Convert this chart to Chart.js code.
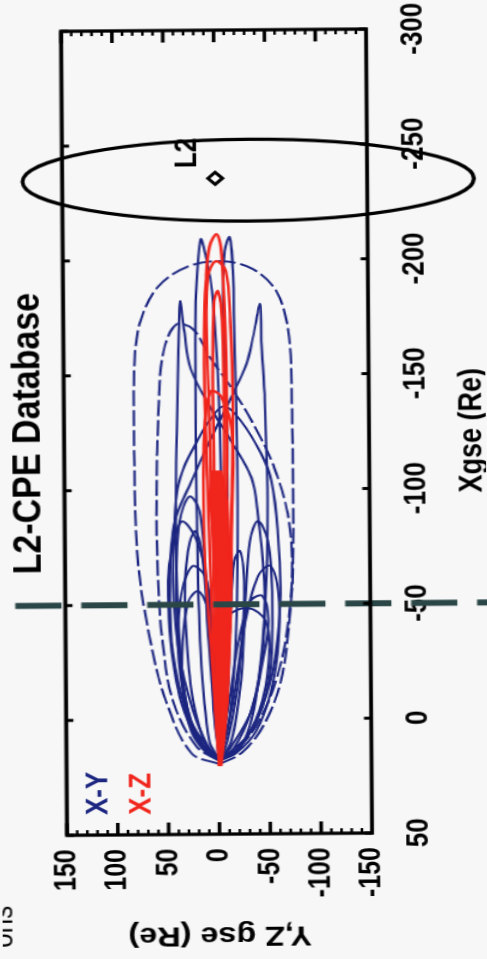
<!DOCTYPE html>
<html><head><meta charset="utf-8">
<script src="https://cdn.jsdelivr.net/npm/chart.js@4.4.1/dist/chart.umd.min.js"></script>
<style>
html,body{margin:0;padding:0;width:487px;height:959px;overflow:hidden;background:#f7f7f7;}
#wrap{position:absolute;left:0;top:0;width:959px;height:406px;transform-origin:0 0;
transform:translate(2.95px,961.8px) rotate(-90.43deg) scale(1,1.1995);}
</style></head><body>
<div id="wrap"><canvas id="c" width="959" height="406"></canvas></div>
<script>
// ---------- texts ----------
const chartTitle = 'L2-CPE Database';
const xAxisTitle = 'Xgse (Re)';
const yAxisTitle = 'Y,Z gse (Re)';
const seriesNames = ['X-Y', 'X-Z'];
const l2Label = 'L2';
const cutoffText = 'ons';

// ---------- ticks ----------
const xTickValues = [-300, -250, -200, -150, -100, -50, 0, 50];
const yTickValues = [-150, -100, -50, 0, 50, 100, 150];

// ---------- reference marks (data units) ----------
const l2Point = [[-235.5, -0.5]];
const l2LabelAt = [-240, 26];
const dashLineX = -50;
const l2ZoneCenter = [-234.6, -33];
const l2ZoneHalfSize = [17.8, 222];
const legendAt = [[41.3, 118], [41.3, 76]];

// ---------- X-Y trajectories (x, y) ----------
const xyTrack1 = [[19.5,-0.5],[14.7,27.0],[-7.9,51.6],[-34.0,66.4],[-68.8,78.2],[-116.7,81.1],[-155.9,80.1],[-173.3,74.2],[-188.5,56.5],[-197.2,27.0],[-199.4,-7.4],[-195.9,-36.9],[-186.4,-59.5],[-168.9,-71.3],[-138.5,-74.3],[-68.8,-74.3],[-47.1,-71.3],[-16.6,-61.5],[3.0,-43.8],[14.7,-22.2],[19.5,-0.5]];
const xyTrack2 = [[18.2,-0.5],[11.7,22.1],[-7.9,44.7],[-34.0,54.6],[-60.1,58.5],[-94.9,59.5],[-138.5,56.5],[-160.2,51.6],[-172.0,38.8],[-169.8,22.1],[-157.2,5.4],[-142.8,-17.2],[-125.4,-39.9],[-109.3,-56.6],[-89.3,-69.4],[-68.8,-73.3],[-42.7,-69.4],[-16.6,-56.6],[3.0,-36.9],[14.7,-14.3],[18.2,-0.5]];
const xyTrack3 = [[17.4,-0.5],[10.4,19.1],[-7.9,31.9],[-42.7,38.8],[-86.2,40.8],[-129.8,38.8],[-160.2,36.9],[-182.0,34.9],[-168.9,30.9],[-152.8,25.0],[-135.4,5.4],[-121.1,-14.3],[-105.0,-34.0],[-89.3,-39.9],[-60.1,-45.8],[-29.6,-43.8],[-3.5,-32.0],[13.0,-14.3],[17.4,-0.5]];
const xyTrack4 = [[17.4,-0.5],[11.7,-22.2],[-12.2,-37.9],[-51.4,-46.8],[-94.9,-49.7],[-138.5,-47.7],[-164.6,-44.8],[-180.7,-43.8],[-166.8,-36.9],[-154.6,-30.0],[-139.8,-14.3],[-122.4,5.4],[-103.7,25.0],[-86.2,41.8],[-60.1,46.7],[-29.6,44.7],[-3.5,31.9],[11.7,15.2],[17.4,-0.5]];
const xyTrack5 = [[17.4,-0.5],[13.0,9.3],[-3.5,25.0],[-29.6,38.8],[-60.1,43.7],[-86.2,41.8],[-100.6,38.8],[-110.2,31.9],[-121.1,19.1],[-129.8,7.3],[-136.3,-7.4],[-129.8,-24.1],[-115.4,-43.8],[-103.7,-53.6],[-81.9,-59.5],[-51.4,-61.5],[-20.9,-53.6],[0.8,-36.9],[13.9,-17.2],[17.4,-0.5]];
const xyTrack6 = [[18.0,-0.5],[11.7,17.2],[-7.9,36.9],[-34.0,46.7],[-60.1,48.7],[-74.5,44.7],[-86.2,34.9],[-79.7,22.1],[-64.5,12.3],[-34.0,5.4],[-3.5,2.4],[18.0,-0.5]];
const xyTrack7 = [[17.4,-0.5],[9.5,9.3],[-29.6,17.2],[-94.9,20.1],[-155.9,20.1],[-186.4,19.1],[-209.0,14.2],[-201.6,9.3],[-186.4,3.4],[-138.5,-2.5],[-68.8,-4.5],[-7.9,-2.5],[17.4,-0.5]];
const xyTrack8 = [[17.4,-0.5],[0.8,-10.4],[-42.7,-18.2],[-103.7,-20.2],[-168.9,-18.2],[-195.1,-17.2],[-209.9,-14.3],[-203.8,-9.4],[-182.0,-7.4],[-116.7,-10.4],[-51.4,-8.4],[0.8,-4.5],[17.4,-0.5]];
const xyTrack9 = [[18.0,-0.5],[-7.9,5.4],[-29.6,3.4],[-44.0,-7.4],[-48.4,-29.1],[-42.7,-46.8],[-25.3,-49.7],[-3.5,-39.9],[11.7,-20.2],[18.0,-0.5]];
const xyTrack10 = [[18.0,-0.5],[13.0,12.3],[-1.4,29.0],[-25.3,38.8],[-51.4,36.9],[-66.7,25.0],[-62.3,12.3],[-42.7,5.4],[-7.9,1.4],[18.0,-0.5]];
const xyTrack11 = [[18.0,-0.5],[9.5,-12.3],[-16.6,-22.2],[-51.4,-27.1],[-77.5,-32.0],[-86.2,-39.9],[-77.5,-49.7],[-51.4,-53.6],[-16.6,-49.7],[5.2,-32.0],[18.0,-0.5]];
const xyTrack12 = [[18.0,-0.5],[14.7,12.3],[5.2,27.0],[-12.2,34.9],[-34.0,34.9],[-51.4,28.9],[-55.8,19.1],[-47.1,9.3],[-16.6,3.4],[18.0,-0.5]];
const xyTrack13 = [[18.0,-0.5],[14.7,-17.2],[5.2,-36.9],[-12.2,-51.7],[-34.0,-59.5],[-55.8,-59.5],[-66.7,-51.7],[-62.3,-39.9],[-42.7,-27.1],[-7.9,-14.3],[18.0,-0.5]];
const xyTrack14 = [[18.0,-0.5],[0.8,27.0],[-34.0,38.8],[-60.1,40.8],[-86.2,36.9],[-97.1,27.0],[-90.6,17.2],[-60.1,11.3],[-16.6,5.4],[18.0,-0.5]];
const xyTrack15 = [[18.0,-0.5],[11.7,-12.3],[-3.5,-32.0],[-25.3,-43.8],[-42.7,-49.7],[-53.6,-43.8],[-51.4,-32.0],[-34.0,-20.2],[-7.9,-10.4],[18.0,-0.5]];
const xyTrack16 = [[18.0,-0.5],[11.7,12.3],[-7.9,25.0],[-34.0,30.9],[-60.1,31.9],[-77.5,27.0],[-81.9,21.1],[-68.8,14.2],[-34.0,9.3],[0.8,3.4],[18.0,-0.5]];
const xyTrack17 = [[18.0,-0.5],[9.5,-8.4],[-12.2,-18.2],[-38.4,-24.1],[-60.1,-26.1],[-73.2,-22.2],[-68.8,-16.3],[-42.7,-12.3],[-7.9,-8.4],[18.0,-0.5]];

// ---------- X-Z trajectories (x, z) ----------
const xzTrack1 = [[20.4,-0.5],[-7.9,3.4],[-42.7,5.4],[-68.8,7.3],[-103.7,9.3],[-138.5,11.3],[-168.9,11.3],[-190.7,9.3],[-206.0,5.4],[-211.2,-1.5],[-206.0,-5.5],[-182.0,-8.4],[-138.5,-10.4],[-94.9,-9.4],[-51.4,-7.4],[-7.9,-4.5],[20.4,-0.5]];
const xzTrack2 = [[20.4,-0.5],[-7.9,1.4],[-51.4,3.4],[-94.9,5.4],[-138.5,7.3],[-173.3,9.3],[-192.9,7.3],[-199.4,-0.5],[-195.1,-10.4],[-173.3,-14.3],[-138.5,-16.3],[-94.9,-14.3],[-51.4,-10.4],[-7.9,-5.5],[20.4,-0.5]];
const xzTrack3 = [[20.4,-0.5],[-29.6,0.5],[-94.9,2.4],[-147.2,3.4],[-182.0,1.4],[-186.4,-2.5],[-173.3,-6.4],[-116.7,-7.4],[-51.4,-4.5],[20.4,-0.5]];
const xzTrack4 = [[20.4,-0.5],[0.8,2.4],[-34.0,7.3],[-68.8,12.3],[-103.7,13.2],[-129.8,11.3],[-142.8,5.4],[-140.7,-4.5],[-125.4,-15.3],[-86.2,-14.3],[-42.7,-12.3],[0.8,-6.4],[20.4,-0.5]];
const xzCore = [[20.4,-2.5],[9.5,-1.5],[-7.9,-0.5],[-42.7,0.5],[-68.8,2.4],[-94.9,7.3],[-108.0,5.4],[-108.0,-4.5],[-94.9,-10.4],[-68.8,-12.3],[-42.7,-12.3],[-7.9,-9.4],[9.5,-5.5],[20.4,-2.5]];

const xyTracks = [xyTrack1, xyTrack2, xyTrack3, xyTrack4, xyTrack5, xyTrack6, xyTrack7, xyTrack8, xyTrack9, xyTrack10, xyTrack11, xyTrack12, xyTrack13, xyTrack14, xyTrack15, xyTrack16, xyTrack17];
const xzTracks = [xzTrack1, xzTrack2, xzTrack3, xzTrack4];

// ---------- styles ----------
const FONT = "'Liberation Sans', Arial, Helvetica, sans-serif";
const BLUE = '#1c2680';
const RED = '#f0251c';
const DASH = '#2a4646';

const toXY = arr => arr.map(p => ({x: p[0], y: p[1]}));

const datasets = [];
datasets.push({label: l2Label, data: toXY(l2Point), showLine: false, pointStyle: 'rectRot',
  pointRadius: 6, pointBorderWidth: 3, pointBackgroundColor: '#ffffff', pointBorderColor: '#000000'});
datasets.push({label: seriesNames[1], data: toXY(xzCore), showLine: true, fill: 'shape',
  backgroundColor: RED, borderColor: RED, borderWidth: 1.5, pointRadius: 0, tension: 0});
xzTracks.forEach(t => datasets.push({label: seriesNames[1], data: toXY(t), showLine: true,
  borderColor: RED, borderWidth: 2.4, pointRadius: 0, tension: 0.35, fill: false}));
xyTracks.forEach((t, i) => datasets.push({label: seriesNames[0], data: toXY(t), showLine: true,
  borderColor: BLUE, borderWidth: 2, pointRadius: 0, tension: 0.35, fill: false,
  borderDash: i < 2 ? [16, 4] : []}));

const decor = {
  id: 'decor',
  afterDatasetsDraw(chart) {
    const {ctx, chartArea: a, scales: {x, y}} = chart;
    const seg = (x1, y1, x2, y2) => { ctx.beginPath(); ctx.moveTo(x1, y1); ctx.lineTo(x2, y2); ctx.stroke(); };
    ctx.save();
    // dashed L2 boundary line
    const xd = x.getPixelForValue(dashLineX);
    ctx.strokeStyle = DASH; ctx.lineWidth = 6; ctx.setLineDash([38.5, 16.5]);
    seg(xd, 12.5, xd, chart.height + 5);
    ctx.setLineDash([]);
    // axes box
    ctx.strokeStyle = '#000'; ctx.lineWidth = 3.3;
    ctx.strokeRect(a.left, a.top, a.right - a.left, a.bottom - a.top);
    // y ticks (major + minor), inward on both sides
    for (let v = yTickValues[0]; v <= yTickValues[yTickValues.length - 1]; v += 10) {
      const py = y.getPixelForValue(v);
      const major = v % 50 === 0;
      ctx.lineWidth = major ? 3 : 2.2;
      const len = major ? 12 : 5;
      seg(a.left, py, a.left + len, py);
      seg(a.right, py, a.right - len, py);
    }
    // x ticks inward on top and bottom
    ctx.lineWidth = 3;
    xTickValues.forEach(v => {
      const px = x.getPixelForValue(v);
      seg(px, a.top, px, a.top + 6);
      seg(px, a.bottom, px, a.bottom - 6);
    });
    // L2 zone ellipse
    const cx = x.getPixelForValue(l2ZoneCenter[0]);
    const cy = y.getPixelForValue(l2ZoneCenter[1]);
    const rx = Math.abs(x.getPixelForValue(l2ZoneCenter[0] + l2ZoneHalfSize[0]) - cx);
    const ry = Math.abs(y.getPixelForValue(l2ZoneCenter[1] + l2ZoneHalfSize[1]) - cy);
    ctx.lineWidth = 3.3; ctx.strokeStyle = '#000';
    ctx.beginPath(); ctx.ellipse(cx, cy, rx, ry, 0, 0, Math.PI * 2); ctx.stroke();
    // texts
    ctx.textBaseline = 'middle'; ctx.textAlign = 'left';
    ctx.font = 'bold 26px ' + FONT;
    ctx.fillStyle = BLUE;
    ctx.fillText(seriesNames[0], x.getPixelForValue(legendAt[0][0]), y.getPixelForValue(legendAt[0][1]));
    ctx.fillStyle = RED;
    ctx.fillText(seriesNames[1], x.getPixelForValue(legendAt[1][0]), y.getPixelForValue(legendAt[1][1]));
    ctx.fillStyle = '#000';
    ctx.fillText(l2Label, x.getPixelForValue(l2LabelAt[0]), y.getPixelForValue(l2LabelAt[1]));
    ctx.font = '26px ' + FONT; ctx.textAlign = 'right'; ctx.textBaseline = 'alphabetic';
    ctx.fillText(cutoffText, 56, 8.3);
    ctx.restore();
  }
};

Chart.defaults.font.family = FONT;
Chart.defaults.color = '#000';

new Chart(document.getElementById('c'), {
  type: 'scatter',
  data: {datasets},
  options: {
    responsive: false,
    animation: false,
    events: [],
    layout: {padding: {left: 0, right: 29, top: 0, bottom: 0}},
    plugins: {
      legend: {display: false},
      tooltip: {enabled: false},
      title: {display: true, text: chartTitle, fullSize: false, color: '#000',
        font: {size: 34, weight: 'bold', family: FONT}, padding: {top: 3.8, bottom: 9.6}}
    },
    scales: {
      x: {
        type: 'linear', reverse: true, min: xTickValues[0], max: xTickValues[xTickValues.length - 1],
        afterBuildTicks: s => { s.ticks = xTickValues.map(v => ({value: v})); },
        ticks: {font: {size: 26, weight: 'bold'}, color: '#000', padding: 24, maxRotation: 0, autoSkip: false},
        grid: {display: false, drawTicks: false}, border: {display: false},
        title: {display: true, text: xAxisTitle, color: '#000', font: {size: 27, weight: 'bold'}, padding: {top: 0, bottom: -4.5}},
        afterFit: s => { s.height = 97.5; }
      },
      y: {
        type: 'linear', min: yTickValues[0], max: yTickValues[yTickValues.length - 1],
        afterBuildTicks: s => { s.ticks = yTickValues.map(v => ({value: v})); },
        ticks: {font: {size: 25, weight: 'bold'}, color: '#000', padding: 14, autoSkip: false},
        grid: {display: false, drawTicks: false}, border: {display: false},
        title: {display: true, text: yAxisTitle, color: '#000', font: {size: 27, weight: 'bold'}, padding: {top: 9, bottom: 0}},
        afterFit: s => { s.width = 126; }
      }
    }
  },
  plugins: [decor]
});
</script></body></html>
